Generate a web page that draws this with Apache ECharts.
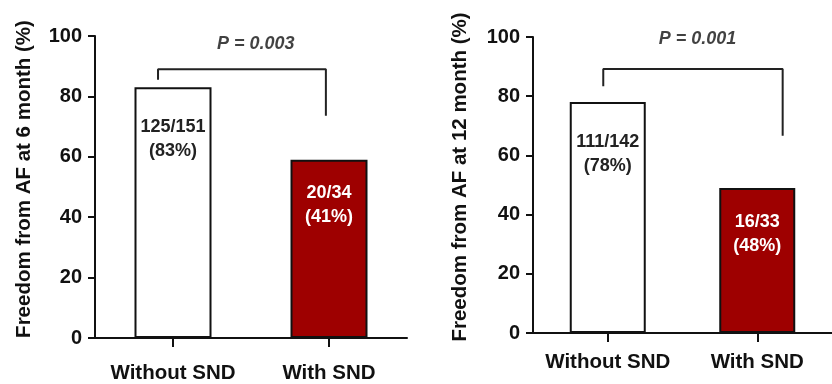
<!DOCTYPE html>
<html><head><meta charset="utf-8">
<script src="https://cdn.jsdelivr.net/npm/echarts@6/dist/echarts.min.js"></script>
<style>html,body{margin:0;padding:0;background:#fff}#c{width:832px;height:384px}</style>
</head><body><div id="c"></div>
<script>
// Data
const categories = ['Without SND', 'With SND'];
const values6m = [83, 59];
const values12m = [78, 49];
const fractions6m = ['125/151', '20/34'];
const percents6m = ['(83%)', '(41%)'];
const fractions12m = ['111/142', '16/33'];
const percents12m = ['(78%)', '(48%)'];
const yTicks = [0, 20, 40, 60, 80, 100];
const yName6m = 'Freedom from AF at 6 month (%)';
const yName12m = 'Freedom from AF at 12 month (%)';
const pText6m = 'P = 0.003';
const pText12m = 'P = 0.001';
// bracket paths (category-index x, value y)
const bracket6m = [[-0.096, 85.5], [-0.096, 89], [0.98, 89], [0.98, 73.6]];
const bracket12m = [[-0.03, 83.4], [-0.03, 89.2], [1.17, 89.2], [1.17, 66.6]];
const pPos6m = [0.53, 97.4];
const pPos12m = [0.6, 99.3];

const FONT = 'Liberation Sans, Arial, sans-serif';
const INK = '#111';
const RED = '#9e0000';

const chart = echarts.init(document.getElementById('c'), null, {renderer: 'canvas'});

function catAxis(gi, margin) {
  return {
    type: 'category', gridIndex: gi, data: categories,
    axisLine: {show: true, lineStyle: {color: INK, width: 2}},
    axisTick: {show: true, alignWithLabel: true, interval: 0, length: 9, lineStyle: {color: INK, width: 2}},
    axisLabel: {interval: 0, fontFamily: FONT, fontSize: 20.5, fontWeight: 'bold', color: INK, margin: margin}
  };
}
function valXAxis(gi) {
  return {type: 'value', gridIndex: gi, min: -0.5, max: 1.5, show: false,
    axisLine: {show: false, onZero: false}, axisTick: {show: false}, axisLabel: {show: false}, splitLine: {show: false}};
}
function yAxis(gi, name, gap) {
  return {
    type: 'value', gridIndex: gi, min: yTicks[0], max: yTicks[yTicks.length - 1], interval: 20,
    name: name, nameLocation: 'middle', nameGap: gap, nameRotate: 90,
    nameTextStyle: {fontFamily: FONT, fontSize: 20.5, fontWeight: 'bold', color: INK, padding: [0, 0, 0, 16]},
    axisLine: {show: true, onZero: false, lineStyle: {color: INK, width: 2}},
    axisTick: {show: true, length: 7, lineStyle: {color: INK, width: 2}},
    axisLabel: {fontFamily: FONT, fontSize: 20, fontWeight: 'bold', color: INK, margin: 13},
    splitLine: {show: false}
  };
}
function barSeries(gi, vals, fr, pc, dists, barW) {
  return {
    type: 'bar', xAxisIndex: gi * 2, yAxisIndex: gi, barWidth: barW,
    data: vals.map((v, i) => ({
      value: v,
      itemStyle: {color: i === 0 ? '#fff' : RED, borderColor: INK, borderWidth: 2},
      label: {
        show: true, position: 'insideTop', distance: dists[i],
        formatter: fr[i] + '\n' + pc[i],
        fontFamily: FONT, fontSize: 18, fontWeight: 'bold', lineHeight: 24,
        color: i === 0 ? '#222' : '#fff'
      }
    })),
    animation: false
  };
}
function bracketSeries(gi, path) {
  return {
    type: 'line', xAxisIndex: gi * 2 + 1, yAxisIndex: gi, data: path,
    symbol: 'none', lineStyle: {color: '#222', width: 2}, animation: false, silent: true
  };
}
function pSeries(gi, pos, txt) {
  return {
    type: 'scatter', xAxisIndex: gi * 2 + 1, yAxisIndex: gi, data: [pos],
    symbolSize: 0, animation: false, silent: true,
    label: {show: true, position: 'inside', formatter: txt, fontFamily: FONT, fontSize: 18,
      fontWeight: 'bold', fontStyle: 'italic', color: INK}
  };
}

chart.setOption({
  backgroundColor: '#fff',
  animation: false,
  grid: [
    {left: 95, top: 36, width: 312, height: 303},
    {left: 533, top: 37, width: 304, height: 296}
  ],
  xAxis: [catAxis(0, 25), valXAxis(0), catAxis(1, 19), valXAxis(1)],
  yAxis: [yAxis(0, yName6m, 60), yAxis(1, yName12m, 62)],
  series: [
    barSeries(0, values6m, fractions6m, percents6m, [28, 21], 77),
    bracketSeries(0, bracket6m),
    pSeries(0, pPos6m, pText6m),
    barSeries(1, values12m, fractions12m, percents12m, [28, 22], 76),
    bracketSeries(1, bracket12m),
    pSeries(1, pPos12m, pText12m)
  ]
});
</script></body></html>
